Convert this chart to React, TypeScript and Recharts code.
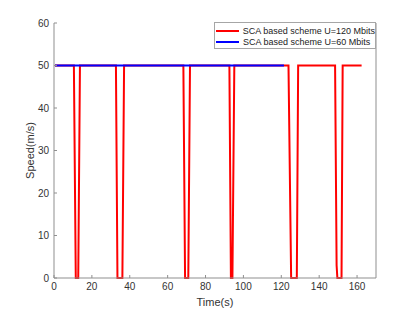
import { LineChart, Line, XAxis, YAxis } from 'recharts'

// time (s) and speed (m/s)
const redTime = [0.5, 10.5, 11.5, 12.8, 13.7, 32.7, 33.5, 36.1, 37, 68.3, 69.2, 70.9, 71.8, 92.6, 93.4, 94.2, 95.2, 123.8, 125.2, 128.2, 128.9, 148.4, 149.2, 149.6, 151.8, 152.4, 162.4]
const redSpeed = [50, 50, 0, 0, 50, 50, 0, 0, 50, 50, 0, 0, 50, 50, 0, 0, 50, 50, 0, 0, 50, 50, 3, 0, 0, 50, 50]
const blueTime = [0.5, 121.4]
const blueSpeed = [50, 50]

const xTicks = [0, 20, 40, 60, 80, 100, 120, 140, 160]
const yTicks = [0, 10, 20, 30, 40, 50, 60]

const redName = 'SCA based scheme U=120 Mbits'
const blueName = 'SCA based scheme U=60 Mbits'

const redData = redTime.map((t, i) => ({ t, v: redSpeed[i] }))
const blueData = blueTime.map((t, i) => ({ t, v: blueSpeed[i] }))

const axisColor = '#8f8f8f'
const textColor = '#333333'
const font = 'Liberation Sans, Arial, Helvetica, sans-serif'

function LegendBox() {
  const items = [
    { name: redName, color: '#ff0000' },
    { name: blueName, color: '#0000ff' },
  ]
  return (
    <div
      style={{
        position: 'absolute',
        left: 214,
        top: 22,
        border: '1px solid #a6a6a6',
        background: '#fff',
        width: 162,
        height: 27,
        boxSizing: 'border-box',
        padding: '2px 0 0 0',
        fontFamily: font,
        fontSize: 9,
        color: '#222',
      }}
    >
      {items.map((it) => (
        <div key={it.name} style={{ display: 'flex', alignItems: 'center', height: 11 }}>
          <span style={{ display: 'inline-block', width: 23, height: 2, background: it.color, marginLeft: 1, marginRight: 4 }} />
          <span style={{ whiteSpace: 'nowrap' }}>{it.name}</span>
        </div>
      ))}
    </div>
  )
}

export default function App() {
  return (
    <div style={{ position: 'absolute', left: 0, top: 0, width: 415, height: 312, background: '#fff' }}>
      <LineChart width={415} height={312} margin={{ top: 23, right: 38, bottom: 0, left: 0 }}>
        <XAxis
          xAxisId="b"
          type="number"
          dataKey="t"
          domain={[0, 170]}
          ticks={xTicks}
          allowDataOverflow
          height={34}
          stroke={axisColor}
          tickSize={-3}
          tickMargin={8}
          tick={{ fill: textColor, fontSize: 10, fontFamily: font }}
          label={{ value: 'Time(s)', position: 'insideBottom', offset: 6, fill: textColor, fontSize: 11, fontFamily: font }}
        />
        <XAxis
          xAxisId="t"
          orientation="top"
          type="number"
          dataKey="t"
          domain={[0, 170]}
          ticks={xTicks}
          allowDataOverflow
          height={0}
          stroke={axisColor}
          tickSize={-3}
          tickFormatter={() => ''}
        />
        <YAxis
          yAxisId="l"
          type="number"
          domain={[0, 60]}
          ticks={yTicks}
          width={54}
          stroke={axisColor}
          tickSize={-3}
          tickMargin={8}
          tick={{ fill: textColor, fontSize: 10, fontFamily: font }}
          label={{
            value: 'Speed(m/s)',
            angle: -90,
            position: 'insideLeft',
            offset: 30,
            fill: textColor,
            fontSize: 11,
            fontFamily: font,
            style: { textAnchor: 'middle' },
          }}
        />
        <YAxis
          yAxisId="r"
          orientation="right"
          type="number"
          domain={[0, 60]}
          ticks={yTicks}
          width={1}
          stroke={axisColor}
          tickSize={-3}
          tickFormatter={() => ''}
        />
        <Line
          xAxisId="b"
          yAxisId="l"
          data={redData}
          dataKey="v"
          type="linear"
          stroke="#ff0000"
          strokeWidth={2}
          dot={false}
          name={redName}
          isAnimationActive={false}
        />
        <Line
          xAxisId="b"
          yAxisId="l"
          data={blueData}
          dataKey="v"
          type="linear"
          stroke="#0000ff"
          strokeWidth={2}
          dot={false}
          name={blueName}
          isAnimationActive={false}
        />
      </LineChart>
      <LegendBox />
    </div>
  )
}
